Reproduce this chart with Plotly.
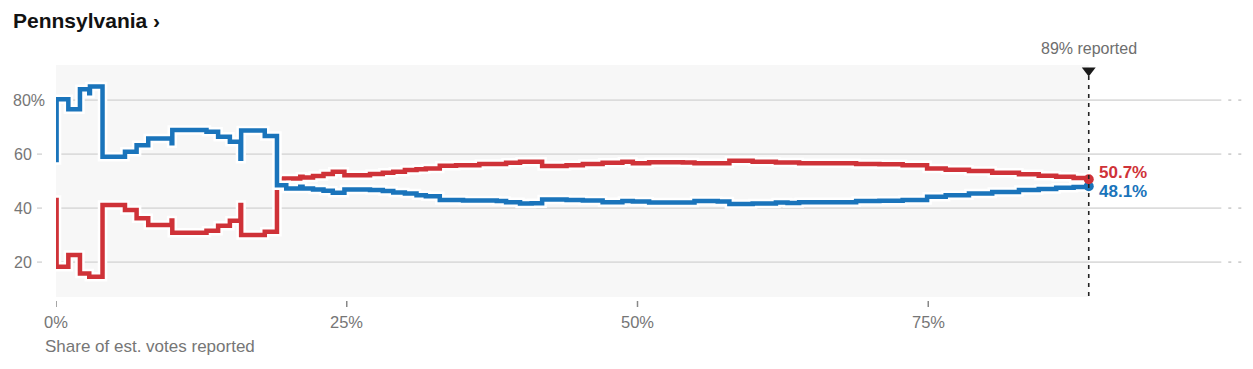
import plotly.graph_objects as go

# ---- data (share of est. votes reported %, candidate share %) ----
blue_x = [0.0, 0.05, 1.06, 2.06, 2.86, 2.92, 4.0, 5.93, 6.93, 7.93, 9.94, 10.0,
          12.94, 13.94, 14.95, 15.86, 15.92, 17.95, 19.0, 19.8, 21.0, 21.2, 22.1,
          23.0, 23.8, 24.8, 27.0, 28.1, 29.0, 30.0, 31.0, 31.8, 33.0, 35.0, 37.9,
          38.7, 39.9, 40.9, 41.8, 43.9, 45.3, 47.0, 48.7, 49.6, 51.0, 54.9, 56.9,
          57.9, 59.9, 61.9, 62.9, 63.9, 68.8, 70.8, 72.8, 74.9, 76.5, 78.5, 80.5,
          82.8, 84.5, 86.0, 87.5, 88.8]
blue_y = [57.8, 80.3, 76.6, 84.0, 82.5, 85.0, 59.0, 60.9, 63.3, 65.8, 64.0, 68.9,
          68.3, 66.4, 64.6, 58.3, 68.7, 66.7, 48.5, 47.3, 47.9, 47.3, 46.9,
          46.4, 45.7, 46.9, 46.7, 46.3, 45.8, 45.4, 44.8, 44.4, 43.0, 42.8, 42.6,
          42.2, 41.7, 41.8, 43.2, 43.0, 42.8, 42.2, 42.6, 42.4, 42.1, 42.6, 42.4,
          41.5, 41.7, 42.1, 41.9, 42.2, 42.6, 42.7, 43.0, 44.2, 44.8, 45.4, 46.0,
          46.7, 47.1, 47.5, 47.8, 48.1]

red_x = [0.0, 0.05, 1.06, 2.06, 2.86, 4.0, 5.93, 6.93, 7.93, 9.94, 10.0, 12.94,
         13.94, 14.95, 15.86, 15.92, 17.95, 19.0, 19.6, 21.0, 21.2, 22.1, 23.0,
         23.8, 24.8, 27.0, 28.1, 29.0, 30.0, 31.0, 31.8, 33.0, 34.4, 36.4, 38.7,
         39.9, 41.8, 43.9, 45.3, 47.0, 48.7, 49.6, 51.0, 53.9, 54.9, 57.9, 59.9,
         61.9, 63.9, 68.8, 70.8, 72.8, 74.9, 76.5, 78.5, 80.5, 82.8, 84.5, 86.0,
         87.5, 88.8]
red_y = [43.0, 18.3, 22.6, 15.8, 14.6, 41.1, 39.3, 36.2, 33.7, 35.4, 30.9, 31.6,
         33.5, 35.3, 41.1, 30.0, 31.2, 50.6, 51.0, 51.6, 51.3, 51.9, 52.6,
         53.5, 52.2, 52.6, 53.1, 53.5, 54.1, 54.4, 54.7, 55.7, 55.9, 56.3, 56.8,
         57.2, 55.6, 55.9, 56.3, 56.8, 57.2, 56.6, 57.0, 56.9, 56.6, 57.5, 57.2,
         56.9, 56.6, 56.3, 56.2, 55.9, 54.7, 54.2, 53.7, 53.1, 52.5, 52.0, 51.6,
         51.1, 50.7]

reported = 88.8
reported_label = "89% reported"
red_label = "50.7%"
blue_label = "48.1%"
y_ticks = [20, 40, 60, 80]
x_ticks = [0, 25, 50, 75]
x_tick_text = ["0%", "25%", "50%", "75%"]

RED = "#cf3238"
BLUE = "#1a74bb"
GRAY_TXT = "#767676"
FONT = "Liberation Sans"

OFF = 8  # page body margin in the browser
W, H = 1253 - 2 * OFF, 369 - 2 * OFF  # avoid scrollbars
# screen-space layout of the plot area
S_LEFT, S_TOP, S_BOTTOM, S_RIGHT = 56, 65, 297, 1253 - OFF
L, T = S_LEFT - OFF, S_TOP - OFF
B = H - (S_BOTTOM - OFF)
R = W - (S_RIGHT - OFF)
PW, PH = W - L - R, H - T - B
PX_PER_X = 11.63
XMAX = PW / PX_PER_X
YMIN, YMAX = 7.07, 93.0


def px_x(p):  # screen pixel -> paper x
    return (p - S_LEFT) / PW


def px_y(p):  # screen pixel -> paper y
    return (S_BOTTOM - p) / PH


fig = go.Figure()

# lines with white halos
fig.add_trace(go.Scatter(x=red_x, y=red_y, mode="lines", line=dict(color="white", width=9.5, shape="hv"),
                         hoverinfo="skip", showlegend=False))
fig.add_trace(go.Scatter(x=red_x, y=red_y, mode="lines", line=dict(color=RED, width=4.5, shape="hv"),
                         showlegend=False))
fig.add_trace(go.Scatter(x=blue_x, y=blue_y, mode="lines", line=dict(color="white", width=9.5, shape="hv"),
                         hoverinfo="skip", showlegend=False))
fig.add_trace(go.Scatter(x=blue_x, y=blue_y, mode="lines", line=dict(color=BLUE, width=4.5, shape="hv"),
                         showlegend=False))
# end dots
fig.add_trace(go.Scatter(x=[blue_x[-1]], y=[blue_y[-1]], mode="markers",
                         marker=dict(color=BLUE, size=10), showlegend=False, cliponaxis=False))
fig.add_trace(go.Scatter(x=[red_x[-1]], y=[red_y[-1]], mode="markers",
                         marker=dict(color=RED, size=10), showlegend=False, cliponaxis=False))
# reported triangle
fig.add_trace(go.Scatter(x=[reported], y=[YMAX - 5.5 / 2.7], mode="markers",
                         marker=dict(symbol="triangle-down", color="#1a1a1a", size=12),
                         showlegend=False, cliponaxis=False))

shapes = []
# background
shapes.append(dict(type="rect", xref="x", yref="paper", x0=0, x1=reported, y0=0, y1=1,
                   fillcolor="#f7f7f7", line=dict(width=0), layer="below"))
for v in y_ticks:
    shapes.append(dict(type="line", xref="x", yref="y", x0=0, x1=100.2, y0=v, y1=v,
                       line=dict(color="#dcdcdc", width=1.6), layer="below"))
    shapes.append(dict(type="line", xref="x", yref="y", x0=100.8, x1=XMAX, y0=v, y1=v,
                       line=dict(color="#cfcfcf", width=1.6, dash="3px,7px"), layer="below"))
    shapes.append(dict(type="line", xref="paper", yref="y", x0=px_x(37), x1=px_x(42), y0=v, y1=v,
                       line=dict(color="#cccccc", width=1.2)))
for v in x_ticks:
    shapes.append(dict(type="line", xref="x", yref="paper", x0=v, x1=v, y0=px_y(301), y1=px_y(307),
                       line=dict(color="#888888", width=1.5)))
# reported dashed line
shapes.append(dict(type="line", xref="x", yref="paper", x0=reported, x1=reported,
                   y0=px_y(296), y1=px_y(74),
                   line=dict(color="#222222", width=1.6, dash="4px,5px")))

ann = []
ann.append(dict(text="<b>Pennsylvania ›</b>", xref="paper", yref="paper", x=px_x(11), y=px_y(20),
                xanchor="left", yanchor="middle", showarrow=False,
                font=dict(family=FONT, size=21, color="#121212")))
for v in y_ticks:
    if v == 80:
        ann.append(dict(text=f"{v}%", xref="paper", yref="y", x=px_x(11), y=v, xanchor="left",
                        yanchor="middle", showarrow=False, font=dict(family=FONT, size=16, color=GRAY_TXT)))
    else:
        ann.append(dict(text=f"{v}", xref="paper", yref="y", x=px_x(34), y=v, xanchor="right",
                        yanchor="middle", showarrow=False, font=dict(family=FONT, size=16, color=GRAY_TXT)))
for v, t in zip(x_ticks, x_tick_text):
    ann.append(dict(text=t, xref="x", yref="paper", x=v, y=px_y(321.5), xanchor="center",
                    yanchor="middle", showarrow=False, font=dict(family=FONT, size=16.5, color=GRAY_TXT)))
ann.append(dict(text="Share of est. votes reported", xref="paper", yref="paper", x=px_x(43), y=px_y(346),
                xanchor="left", yanchor="middle", showarrow=False,
                font=dict(family=FONT, size=17, color=GRAY_TXT)))
ann.append(dict(text=reported_label, xref="x", yref="paper", x=reported, y=px_y(48),
                xanchor="center", yanchor="middle", showarrow=False,
                font=dict(family=FONT, size=16, color="#6e6e6e")))
ann.append(dict(text=f"<b>{red_label}</b>", xref="paper", yref="paper", x=px_x(1097), y=px_y(172.5),
                xanchor="left", yanchor="middle", showarrow=False,
                font=dict(family=FONT, size=17, color=RED)))
ann.append(dict(text=f"<b>{blue_label}</b>", xref="paper", yref="paper", x=px_x(1097), y=px_y(191),
                xanchor="left", yanchor="middle", showarrow=False,
                font=dict(family=FONT, size=17, color=BLUE)))

fig.update_layout(
    width=W, height=H,
    margin=dict(l=L, r=R, t=T, b=B, pad=0),
    paper_bgcolor="white", plot_bgcolor="white",
    xaxis=dict(range=[0, XMAX], showgrid=False, zeroline=False, showticklabels=False,
               showline=False, ticks="", fixedrange=True),
    yaxis=dict(range=[YMIN, YMAX], showgrid=False, zeroline=False, showticklabels=False,
               showline=False, ticks="", fixedrange=True),
    shapes=shapes, annotations=ann, showlegend=False,
    font=dict(family=FONT),
)

fig.write_html("out.html", config={"displayModeBar": False})
